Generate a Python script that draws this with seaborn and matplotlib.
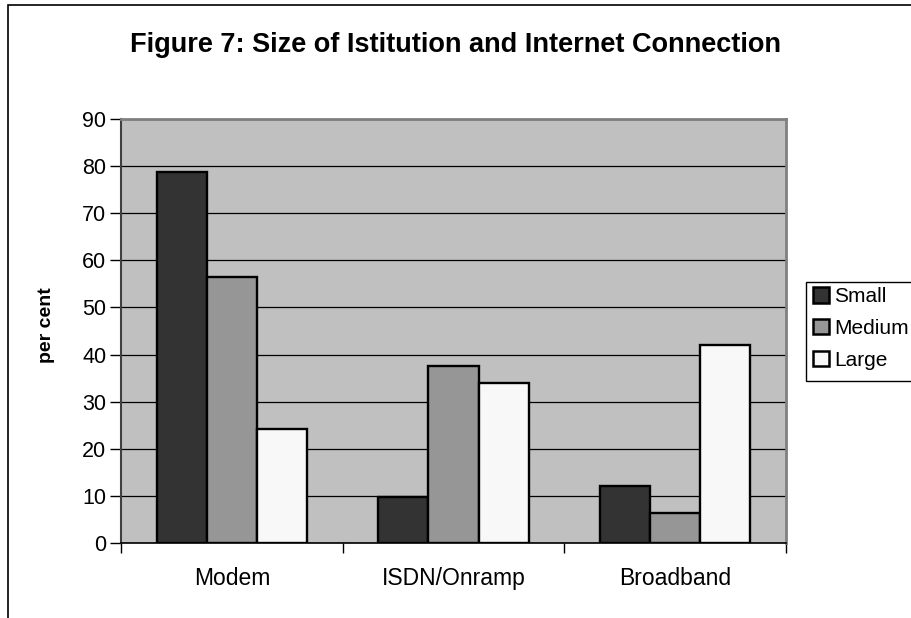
import matplotlib
matplotlib.use("Agg")
import matplotlib.pyplot as plt
import matplotlib.patches as mpatches
from matplotlib.ticker import FixedLocator
import seaborn as sns
import pandas as pd

categories = ["Modem", "ISDN/Onramp", "Broadband"]
sizes = ["Small", "Medium", "Large"]
small_vals = [78.7, 9.7, 12.1]
medium_vals = [56.4, 37.6, 6.4]
large_vals = [24.2, 34.0, 42.1]
y_ticks = [0, 10, 20, 30, 40, 50, 60, 70, 80, 90]

rows = []
for s, vals in zip(sizes, [small_vals, medium_vals, large_vals]):
    for c, v in zip(categories, vals):
        rows.append({"Connection": c, "Size": s, "per cent": v})
df = pd.DataFrame(rows)

sns.set_theme(style="white")
plt.rcParams["font.family"] = ["Liberation Sans", "DejaVu Sans"]
plt.rcParams["text.color"] = "black"
plt.rcParams["axes.labelcolor"] = "black"
plt.rcParams["xtick.color"] = "black"
plt.rcParams["ytick.color"] = "black"

fig = plt.figure(figsize=(9.12, 6.18), dpi=100)
ax = fig.add_axes([121/912, 1 - 543/618, (786 - 121)/912, (543 - 119)/618])

palette = {"Small": "#333333", "Medium": "#969696", "Large": "#f8f8f8"}
sns.barplot(data=df, x="Connection", y="per cent", hue="Size", order=categories,
            hue_order=sizes, palette=palette, width=0.677, edgecolor="black",
            linewidth=1.7, saturation=1, ax=ax, zorder=3)

ax.set_facecolor("#c0c0c0")
ax.set_ylim(0, 90)
ax.set_xlim(-0.5, 2.5)
ax.set_yticks(y_ticks)
ax.set_yticklabels([str(t) for t in y_ticks])
ax.yaxis.grid(True, color="black", linewidth=0.9, zorder=0)
ax.set_axisbelow(True)
ax.xaxis.grid(False)

ax.set_xticks(range(len(categories)))
ax.set_xticklabels(categories)
ax.tick_params(axis="x", which="major", length=0, pad=17, labelsize=16.5, labelcolor="black")
ax.xaxis.set_minor_locator(FixedLocator([-0.5, 0.5, 1.5, 2.5]))
ax.tick_params(axis="x", which="minor", length=7, color="black", width=1, direction="out", bottom=True)
ax.tick_params(axis="y", which="major", length=8, color="black", width=1, direction="out",
               left=True, pad=2.5, labelsize=15.5, labelcolor="black")

ax.set_xlabel("")
ax.set_ylabel("")
fig.text(47/912, 1 - 325/618, "per cent", rotation=90, ha="center", va="center",
         fontsize=14, fontweight="bold", color="black")

for side in ["top", "right"]:
    ax.spines[side].set_visible(True)
    ax.spines[side].set_color("#808080")
    ax.spines[side].set_linewidth(2)
ax.spines["left"].set_color("#404040")
ax.spines["left"].set_linewidth(1.5)
ax.spines["bottom"].set_color("black")
ax.spines["bottom"].set_linewidth(1.2)

leg = ax.legend(title=None, loc="upper left", bbox_to_anchor=(809/912, 1 - 283/618),
                bbox_transform=fig.transFigure, frameon=False,
                fontsize=15, handlelength=0.75, handleheight=0.75, handletextpad=0.25,
                borderpad=0.2, borderaxespad=0, labelspacing=0.62)
for h in leg.legend_handles:
    h.set_edgecolor("black")
    h.set_linewidth(1.8)
for t in leg.get_texts():
    t.set_color("black")

legend_box = mpatches.Rectangle((806/912, 1 - 381/618), 140/912, (381 - 282)/618,
                                transform=fig.transFigure, fill=False, edgecolor="black",
                                linewidth=1, clip_on=False)
fig.patches.append(legend_box)

fig.text(456/912, 1 - 45/618, "Figure 7: Size of Istitution and Internet Connection",
         ha="center", va="center", fontsize=19.5, fontweight="bold", color="black")

border = mpatches.Rectangle((8.5/912, -0.05), 1.0, 1.05 - 5/618,
                            transform=fig.transFigure, fill=False, edgecolor="black",
                            linewidth=1.2, clip_on=False)
fig.patches.append(border)

fig.savefig("out.png", dpi=100)
